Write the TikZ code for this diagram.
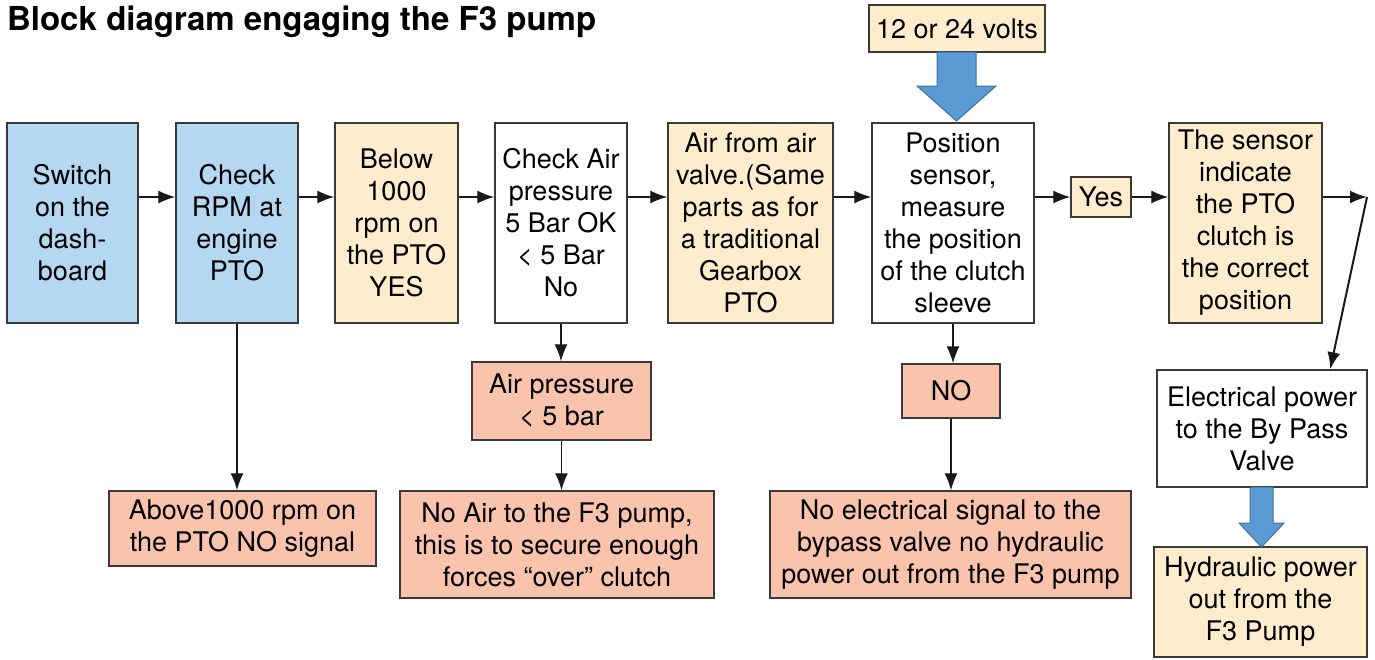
\documentclass[tikz,border=0pt]{standalone}
\usepackage{fontspec}
\setmainfont{TeX Gyre Heros}
\usetikzlibrary{arrows.meta}

\definecolor{boxblue}{HTML}{B4D8F1}
\definecolor{boxcream}{HTML}{FEEDCC}
\definecolor{boxsalmon}{HTML}{F9C3AC}
\definecolor{boxline}{HTML}{3A3A3A}
\definecolor{fatblue}{HTML}{5B9BD5}
\definecolor{fatline}{HTML}{41719C}

\begin{document}
\begin{tikzpicture}[x = 0.5pt, y = -0.5pt,
    box/.style = {draw=boxline, line width=0.75pt, align=center, inner sep=0pt,
                  font=\fontsize{13.5}{16}\selectfont},
    bluebox/.style = {box, fill=boxblue},
    creambox/.style = {box, fill=boxcream},
    salmonbox/.style = {box, fill=boxsalmon},
    whitebox/.style = {box, fill=white},
    arrow/.style = {-{Latex[length=8.5pt,width=6.5pt]}, line width=0.7pt, draw=black!90},
    fatarrow/.style = {fill=fatblue, draw=fatline, line width=0.5pt}]
        \useasboundingbox (0,0) rectangle (1375,659);
        \node[anchor=base west, font=\bfseries\fontsize{16.5}{19}\selectfont] (title) at (0,30) {Block diagram engaging the F3 pump};
        % top row
        \node[bluebox, minimum width=65.5pt, minimum height=100pt] (switch) at (72.5,223) {Switch\\on the\\dash-\\board};
        \node[bluebox, minimum width=61pt, minimum height=100pt] (rpm) at (237,223) {Check\\RPM at\\engine\\PTO};
        \node[creambox, minimum width=61.5pt, minimum height=100pt] (below) at (396.5,223) {Below\\1000\\rpm on\\the PTO\\YES};
        \node[whitebox, minimum width=66pt, minimum height=100pt] (air) at (561,223) {Check Air\\pressure\\5 Bar OK\\< 5 Bar\\No};
        \node[creambox, minimum width=82.5pt, minimum height=100pt] (valve) at (750.5,223) {Air from air\\valve.(Same\\parts as for\\a traditional\\Gearbox\\PTO};
        \node[whitebox, minimum width=81pt, minimum height=100pt] (sensor) at (953,223) {Position\\sensor,\\measure\\the position\\of the clutch\\sleeve};
        \node[creambox, minimum width=30pt, minimum height=20pt] (yes) at (1101,197) {Yes};
        \node[creambox, minimum width=76.5pt, minimum height=100pt] (correct) at (1245.5,223) {The sensor\\indicate\\the PTO\\clutch is\\the correct\\position};
        \node[creambox, minimum width=88pt, minimum height=23.5pt] (volts) at (957,28.5) {12 or 24 volts};
        % lower boxes
        \node[salmonbox, minimum width=89.5pt, minimum height=39pt] (lowair) at (561.5,401) {Air pressure\\< 5 bar};
        \node[salmonbox, minimum width=49pt, minimum height=27pt] (no) at (951,391) {NO};
        \node[salmonbox, minimum width=133.5pt, minimum height=37.5pt] (above) at (242.5,528.5) {Above1000 rpm on\\the PTO NO signal};
        \node[salmonbox, minimum width=157pt, minimum height=53.5pt] (noair) at (557,544.5) {No Air to the F3 pump,\\this is to secure enough\\forces “over” clutch};
        \node[salmonbox, minimum width=180.5pt, minimum height=53.5pt] (nosignal) at (950.5,544.5) {No electrical signal to the\\bypass valve no hydraulic\\power out from the F3 pump};
        \node[whitebox, minimum width=105pt, minimum height=58.5pt] (power) at (1262,428.5) {Electrical power\\to the By Pass\\Valve};
        \node[creambox, minimum width=106.5pt, minimum height=55pt] (hydraulic) at (1260.5,602) {Hydraulic power\\out from the\\F3 Pump};
        % connectors
        \draw[arrow] ([yshift=13pt]switch.east) -- ([yshift=13pt]rpm.west);
        \draw[arrow] ([yshift=13pt]rpm.east) -- ([yshift=13pt]below.west);
        \draw[arrow] ([yshift=13pt]below.east) -- ([yshift=13pt]air.west);
        \draw[arrow] ([yshift=13pt]air.east) -- ([yshift=13pt]valve.west);
        \draw[arrow] ([yshift=13pt]valve.east) -- ([yshift=13pt]sensor.west);
        \draw[arrow] ([yshift=13pt]sensor.east) -- (yes.west);
        \draw[arrow] (yes.east) -- ([yshift=13pt]correct.west);
        \coordinate (bend) at (1367,197);
        \draw[arrow, line width=1pt] ([yshift=13pt]correct.east) -- (bend);
        \draw[arrow, line width=1pt] (bend) -- (power.41);
        \draw[arrow] (rpm.south) -- (rpm.south |- above.north);
        \draw[arrow] (air.south) -- (air.south |- lowair.north);
        \draw[arrow] (lowair.south) -- (lowair.south |- noair.north);
        \draw[arrow] (sensor.south) -- (sensor.south |- no.north);
        \draw[arrow] (no.south) -- (no.south |- nosignal.north);
        % fat arrows
        \draw[fatarrow] (937,52) -- (976,52) -- (976,86) -- (996,86) -- (956.5,121) -- (917,86) -- (937,86) -- cycle;
        \draw[fatarrow] (1250,487) -- (1273,487) -- (1273,523) -- (1284,523) -- (1261.5,547) -- (1239,523) -- (1250,523) -- cycle;
      \end{tikzpicture}
\end{document}
